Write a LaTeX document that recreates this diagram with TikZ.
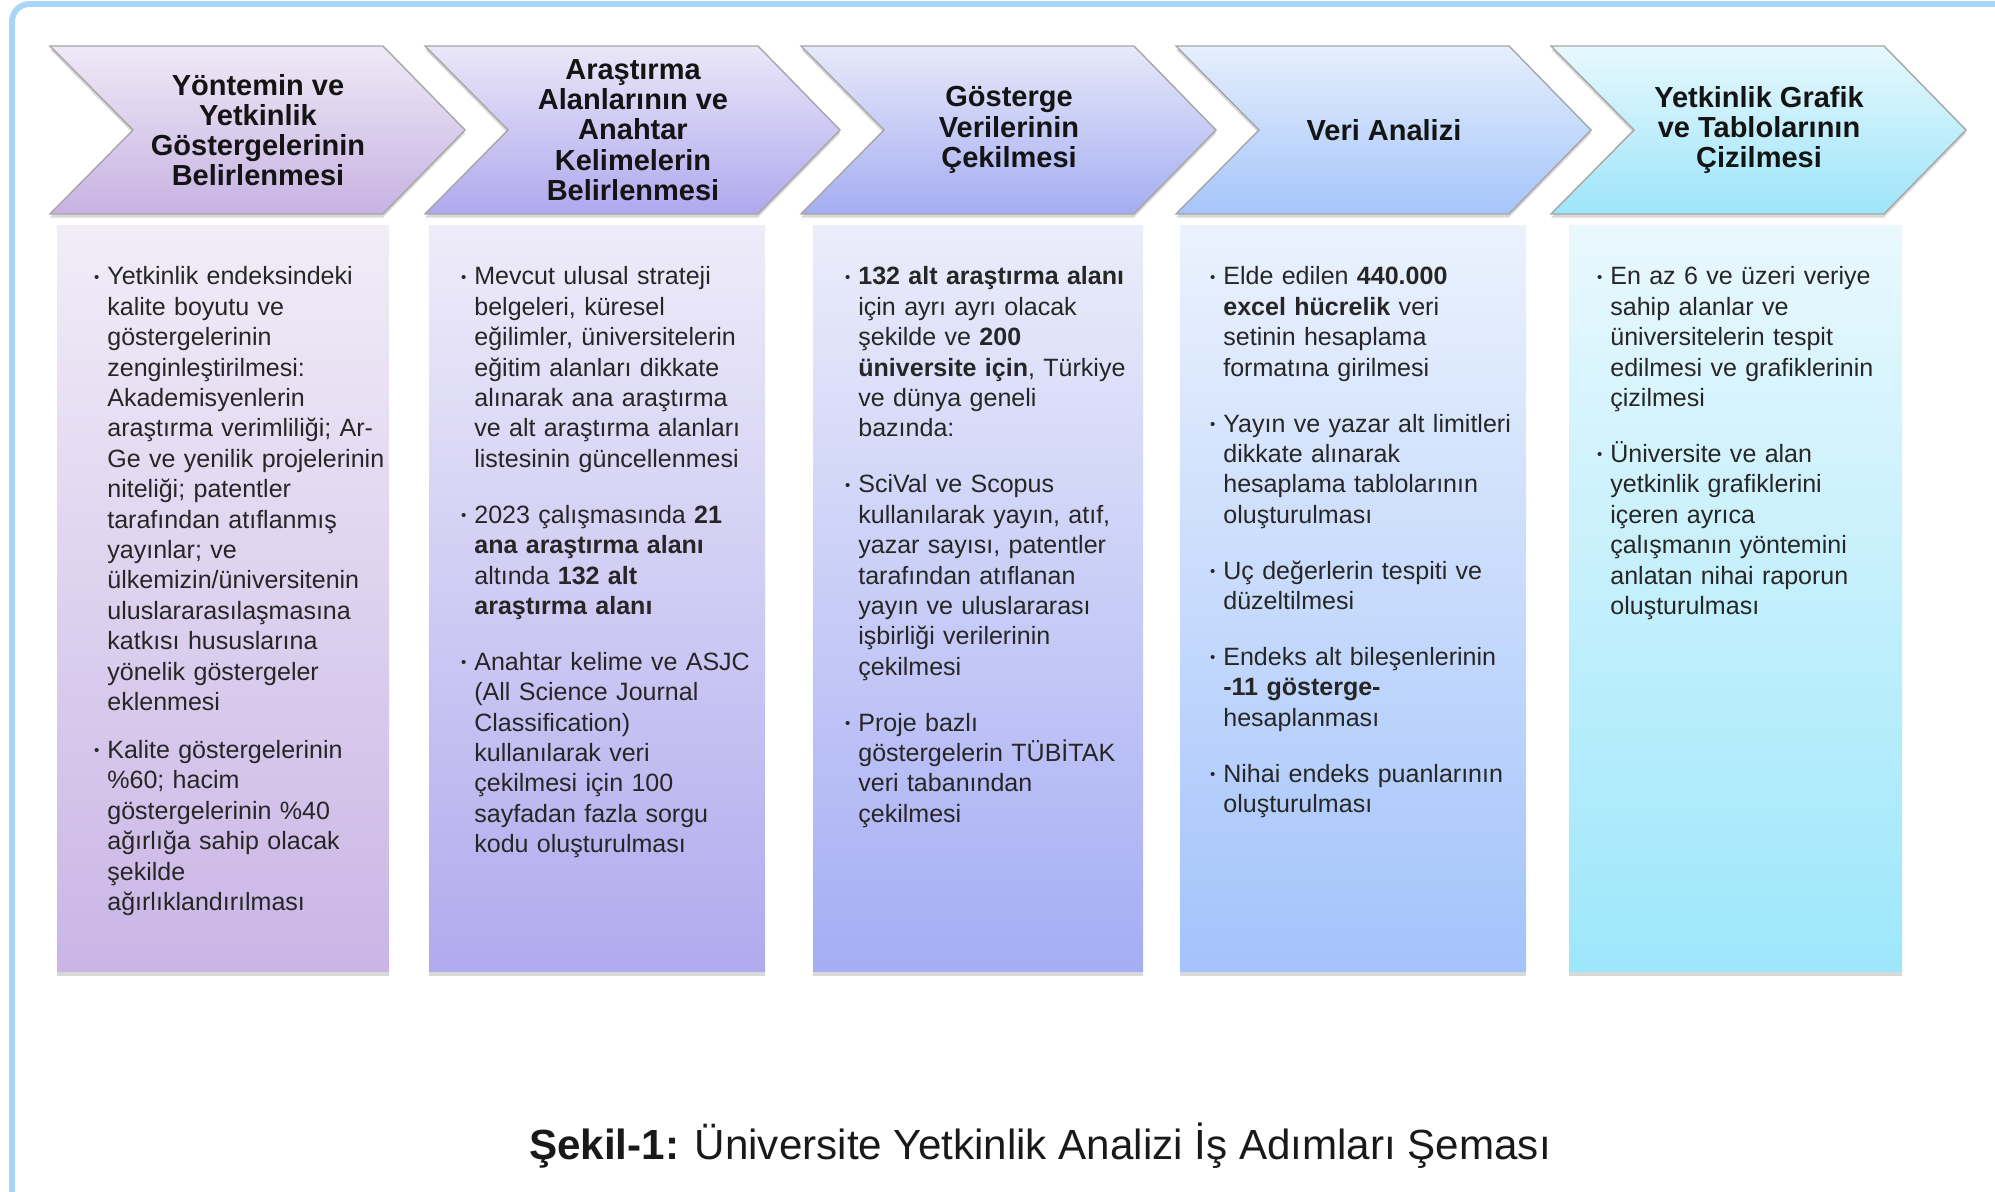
\documentclass[tikz,border=0pt]{standalone}
\usepackage{fontspec}
\setmainfont{Liberation Sans}
\usetikzlibrary{shadows}

\definecolor{frameblue}{HTML}{A9D5F7}
\definecolor{chevAtop}{HTML}{EFE9F6}
\definecolor{chevAbot}{HTML}{C7B2E3}
\definecolor{chevBtop}{HTML}{EAE7F8}
\definecolor{chevBbot}{HTML}{B0A8EE}
\definecolor{chevCtop}{HTML}{E7E9F9}
\definecolor{chevCbot}{HTML}{A4ADF2}
\definecolor{chevDtop}{HTML}{E5EFFC}
\definecolor{chevDbot}{HTML}{A5C5FA}
\definecolor{chevEtop}{HTML}{E7F8FD}
\definecolor{chevEbot}{HTML}{9DE5FA}
\definecolor{panAtop}{HTML}{F1EDF7}
\definecolor{panAbot}{HTML}{CAB5E6}
\definecolor{panBtop}{HTML}{EEECF9}
\definecolor{panBbot}{HTML}{B1AAEE}
\definecolor{panCtop}{HTML}{EBEDFA}
\definecolor{panCbot}{HTML}{A5ADF4}
\definecolor{panDtop}{HTML}{EBF2FD}
\definecolor{panDbot}{HTML}{A3C3FB}
\definecolor{panEtop}{HTML}{E9F8FD}
\definecolor{panEbot}{HTML}{9DE7FB}

\newcommand{\bul}{\leavevmode\llap{\raisebox{1.6pt}{\scalebox{0.6}{\textbullet}}\hspace{4.5pt}}}

\tikzset{
  chev/.style={draw=gray!70, line width=0.8pt,
    drop shadow={shadow xshift=0pt, shadow yshift=-2pt, opacity=0.3}},
  panel/.style={drop shadow={shadow xshift=0pt, shadow yshift=-3pt, opacity=0.3}},
  head/.style={align=center, inner sep=0pt, text=black!92,
    font=\fontsize{16.5}{17.2}\selectfont\bfseries},
  body/.style={anchor=base west, text width=7cm, align=left, inner sep=0pt,
    text=black!85, font=\fontsize{14.25}{17.3}\selectfont},
  frame/.style={draw=frameblue, line width=3.4pt, rounded corners=10pt}
}

\begin{document}
\begin{tikzpicture}[x=0.02cm, y=-0.02cm]
    \useasboundingbox (0,0) rectangle (1995,1192);
    \begin{scope}
        \clip (0,0) rectangle (1995,1192);
        \draw[frame] (12,1300) |- (2100,4);
    \end{scope}

    % step arrows
    \path[chev, top color=chevAtop, bottom color=chevAbot] (50,46) -- ++(333,0) -- ++(82,84) -- ++(-82,84) -- ++(-333,0) -- ++(83,-84) -- cycle;
    \path[chev, top color=chevBtop, bottom color=chevBbot] (425,46) -- ++(333,0) -- ++(82,84) -- ++(-82,84) -- ++(-333,0) -- ++(83,-84) -- cycle;
    \path[chev, top color=chevCtop, bottom color=chevCbot] (801,46) -- ++(333,0) -- ++(82,84) -- ++(-82,84) -- ++(-333,0) -- ++(83,-84) -- cycle;
    \path[chev, top color=chevDtop, bottom color=chevDbot] (1176,46) -- ++(333,0) -- ++(82,84) -- ++(-82,84) -- ++(-333,0) -- ++(83,-84) -- cycle;
    \path[chev, top color=chevEtop, bottom color=chevEbot] (1551,46) -- ++(333,0) -- ++(82,84) -- ++(-82,84) -- ++(-333,0) -- ++(83,-84) -- cycle;

    \node[head] (head1) at (258,130) {Yöntemin ve\\Yetkinlik\\Göstergelerinin\\Belirlenmesi};
    \node[head] (head2) at (633,130) {Araştırma\\Alanlarının ve\\Anahtar\\Kelimelerin\\Belirlenmesi};
    \node[head] (head3) at (1009,130) {Gösterge\\Verilerinin\\Çekilmesi};
    \node[head] (head4) at (1384,130) {Veri Analizi};
    \node[head] (head5) at (1759,130) {Yetkinlik Grafik\\ve Tablolarının\\Çizilmesi};

    % panels
    \path[panel, top color=panAtop, bottom color=panAbot] (57,226) rectangle (389,971);
    \path[panel, top color=panBtop, bottom color=panBbot] (429,226) rectangle (765,971);
    \path[panel, top color=panCtop, bottom color=panCbot] (813,226) rectangle (1143,971);
    \path[panel, top color=panDtop, bottom color=panDbot] (1180,226) rectangle (1526,971);
    \path[panel, top color=panEtop, bottom color=panEbot] (1569,226) rectangle (1902,971);

    \node[body] (body1) at (107,285) {\bul Yetkinlik endeksindeki\\kalite boyutu ve\\göstergelerinin\\zenginleştirilmesi:\\Akademisyenlerin\\araştırma verimliliği; Ar-\\Ge ve yenilik projelerinin\\niteliği; patentler\\tarafından atıflanmış\\yayınlar; ve\\ülkemizin/üniversitenin\\uluslararasılaşmasına\\katkısı hususlarına\\yönelik göstergeler\\eklenmesi\\[10pt]
        \bul Kalite göstergelerinin\\\%60; hacim\\göstergelerinin \%40\\ağırlığa sahip olacak\\şekilde\\ağırlıklandırılması};
    \node[body] (body2) at (474,285) {\bul Mevcut ulusal strateji\\belgeleri, küresel\\eğilimler, üniversitelerin\\eğitim alanları dikkate\\alınarak ana araştırma\\ve alt araştırma alanları\\listesinin güncellenmesi\\[14.5pt]
        \bul 2023 çalışmasında \textbf{21}\\\textbf{ana araştırma alanı}\\altında \textbf{132 alt}\\\textbf{araştırma alanı}\\[14.5pt]
        \bul Anahtar kelime ve ASJC\\(All Science Journal\\Classification)\\kullanılarak veri\\çekilmesi için 100\\sayfadan fazla sorgu\\kodu oluşturulması};
    \node[body] (body3) at (858,285) {\bul \textbf{132 alt araştırma alanı}\\için ayrı ayrı olacak\\şekilde ve \textbf{200}\\\textbf{üniversite için}, Türkiye\\ve dünya geneli\\bazında:\\[14.5pt]
        \bul SciVal ve Scopus\\kullanılarak yayın, atıf,\\yazar sayısı, patentler\\tarafından atıflanan\\yayın ve uluslararası\\işbirliği verilerinin\\çekilmesi\\[14.5pt]
        \bul Proje bazlı\\göstergelerin TÜBİTAK\\veri tabanından\\çekilmesi};
    \node[body] (body4) at (1223,285) {\bul Elde edilen \textbf{440.000}\\\textbf{excel hücrelik} veri\\setinin hesaplama\\formatına girilmesi\\[14.5pt]
        \bul Yayın ve yazar alt limitleri\\dikkate alınarak\\hesaplama tablolarının\\oluşturulması\\[14.5pt]
        \bul Uç değerlerin tespiti ve\\düzeltilmesi\\[14.5pt]
        \bul Endeks alt bileşenlerinin\\\textbf{-11 gösterge-}\\hesaplanması\\[14.5pt]
        \bul Nihai endeks puanlarının\\oluşturulması};
    \node[body] (body5) at (1610,285) {\bul En az 6 ve üzeri veriye\\sahip alanlar ve\\üniversitelerin tespit\\edilmesi ve grafiklerinin\\çizilmesi\\[14.5pt]
        \bul Üniversite ve alan\\yetkinlik grafiklerini\\içeren ayrıca\\çalışmanın yöntemini\\anlatan nihai raporun\\oluşturulması};

    \node[anchor=base, inner sep=0pt, text=black!90, font=\fontsize{24}{28}\selectfont] (caption) at (1040,1159) {\textbf{Şekil-1:} Üniversite Yetkinlik Analizi İş Adımları Şeması};
\end{tikzpicture}
\end{document}
